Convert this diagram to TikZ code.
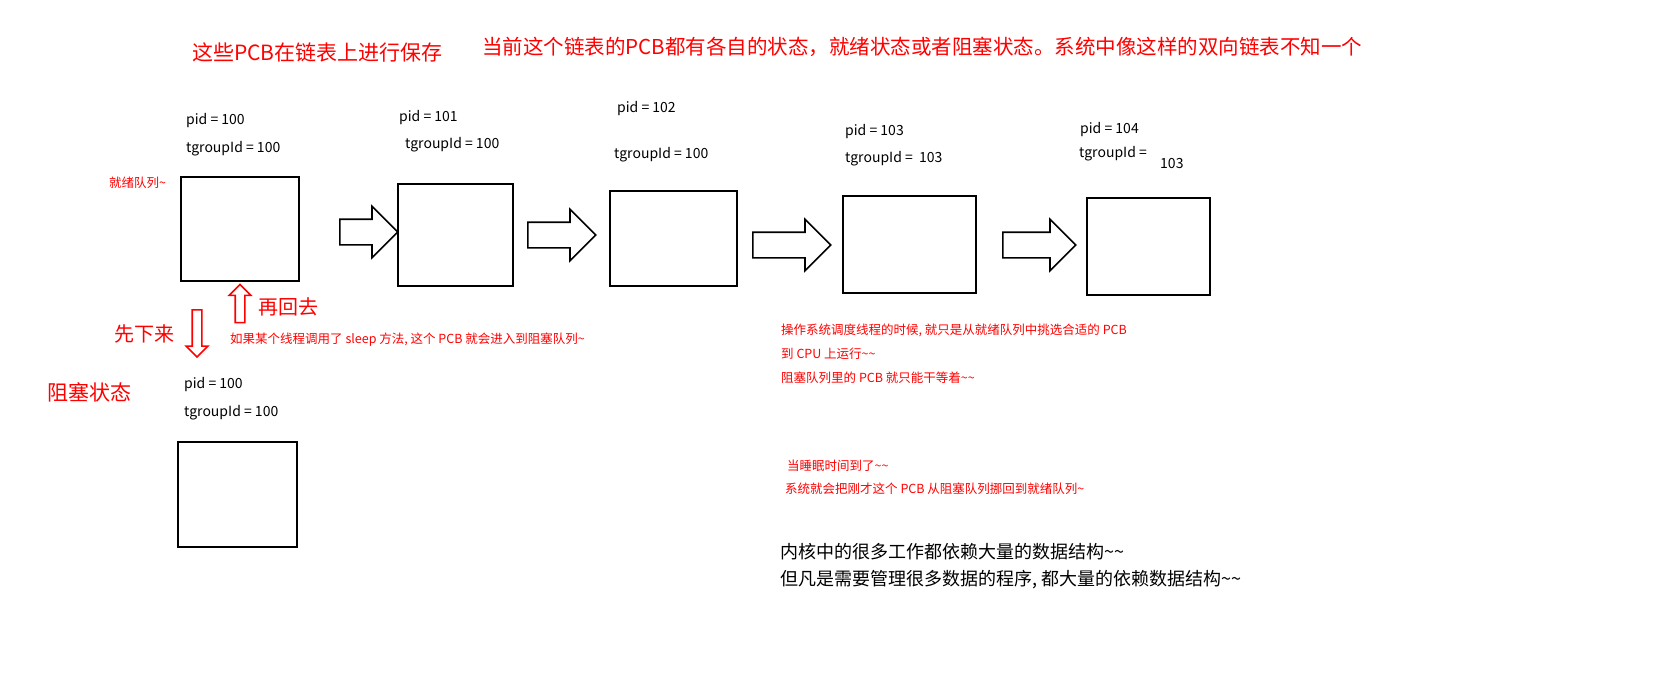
\documentclass[tikz,border=0pt]{standalone}
\usepackage{fontspec}
\setmainfont{Noto Sans CJK SC}
\usetikzlibrary{shapes.arrows}
\tikzset{
	pcb/.style={draw, line width=1.6pt},
	blockarrow/.style={draw, line width=1.6pt, single arrow, fill=white, inner xsep=0pt,
		inner ysep=12pt, single arrow head extend=13pt, anchor=west},
	redarrow/.style={draw=red, line width=1.6pt, single arrow, inner xsep=0pt,
		inner ysep=4pt, single arrow head extend=6pt},
	lbl/.style={anchor=west, font=\fontsize{14}{16}\selectfont, inner sep=0pt},
	note/.style={anchor=west, red, font=\fontsize{12.5}{15}\selectfont, inner sep=0pt},
	big/.style={anchor=west, red, font=\fontsize{21}{24}\selectfont, inner sep=0pt}
}
\begin{document}
\begin{tikzpicture}[x=1pt, y=-1pt]
	\useasboundingbox (0, 0) rectangle (1665, 697);

	\node[big] (title1) at (192, 52) {这些PCB在链表上进行保存};
	\node[big, font=\fontsize{20.5}{24}\selectfont] (title2) at (482, 47) {当前这个链表的PCB都有各自的状态，就绪状态或者阻塞状态。系统中像这样的双向链表不知一个};

	\draw[pcb] (181, 177) rectangle (299, 281) coordinate (b1);
	\draw[pcb] (398, 184) rectangle (513, 286) coordinate (b2);
	\draw[pcb] (610, 191) rectangle (737, 286) coordinate (b3);
	\draw[pcb] (843, 196) rectangle (976, 293) coordinate (b4);
	\draw[pcb] (1087, 198) rectangle (1210, 295) coordinate (b5);
	\draw[pcb] (178, 442) rectangle (297, 547) coordinate (b6);

	\node[blockarrow, minimum height=58pt] (a1) at (339, 232) {};
	\node[blockarrow, minimum height=68pt] (a2) at (527, 235) {};
	\node[blockarrow, minimum height=78pt] (a3) at (752, 245) {};
	\node[blockarrow, minimum height=73pt] (a4) at (1002, 245) {};

	\node[redarrow, rotate=-90, minimum height=47pt] (down) at (197, 331) {};
	\node[redarrow, rotate=90, minimum height=38pt] (up) at (240, 306) {};

	\node[lbl] (pid0) at (186, 121) {pid = 100};
	\node[lbl] (tg0) at (186, 149) {tgroupId = 100};
	\node[lbl] (pid1) at (399, 118) {pid = 101};
	\node[lbl] (tg1) at (405, 145) {tgroupId = 100};
	\node[lbl] (pid2) at (617, 109) {pid = 102};
	\node[lbl] (tg2) at (614, 155) {tgroupId = 100};
	\node[lbl] (pid3) at (845, 132) {pid = 103};
	\node[lbl] (tg3) at (845, 159) {tgroupId =\ \ 103};
	\node[lbl] (pid4) at (1080, 130) {pid = 104};
	\node[lbl] (tg4) at (1079, 154) {tgroupId =};
	\node[lbl] (tg4b) at (1160, 164) {103};
	\node[lbl] (pid5) at (184, 385) {pid = 100};
	\node[lbl] (tg5) at (184, 413) {tgroupId = 100};

	\node[note] (ready) at (109, 183) {就绪队列\textasciitilde};
	\node[big, font=\fontsize{20}{24}\selectfont] (back) at (258, 307) {再回去};
	\node[big, font=\fontsize{20}{24}\selectfont] (first) at (114, 334) {先下来};
	\node[note] (sleep) at (230, 340) {如果某个线程调用了 sleep 方法, 这个 PCB 就会进入到阻塞队列\textasciitilde};
	\node[big] (blocked) at (47, 392) {阻塞状态};

	\node[note] (r1) at (781, 330) {操作系统调度线程的时候, 就只是从就绪队列中挑选合适的 PCB};
	\node[note] (r2) at (781, 354) {到 CPU 上运行\textasciitilde\textasciitilde};
	\node[note] (r3) at (781, 378) {阻塞队列里的 PCB 就只能干等着\textasciitilde\textasciitilde};
	\node[note] (w1) at (787, 466) {当睡眠时间到了\textasciitilde\textasciitilde};
	\node[note] (w2) at (785, 489) {系统就会把刚才这个 PCB 从阻塞队列挪回到就绪队列\textasciitilde};

	\node[lbl, font=\fontsize{18}{22}\selectfont] (k1) at (780, 552) {内核中的很多工作都依赖大量的数据结构\textasciitilde\textasciitilde};
	\node[lbl, font=\fontsize{18}{22}\selectfont] (k2) at (780, 580) {但凡是需要管理很多数据的程序, 都大量的依赖数据结构\textasciitilde\textasciitilde};

\end{tikzpicture}
\end{document}
